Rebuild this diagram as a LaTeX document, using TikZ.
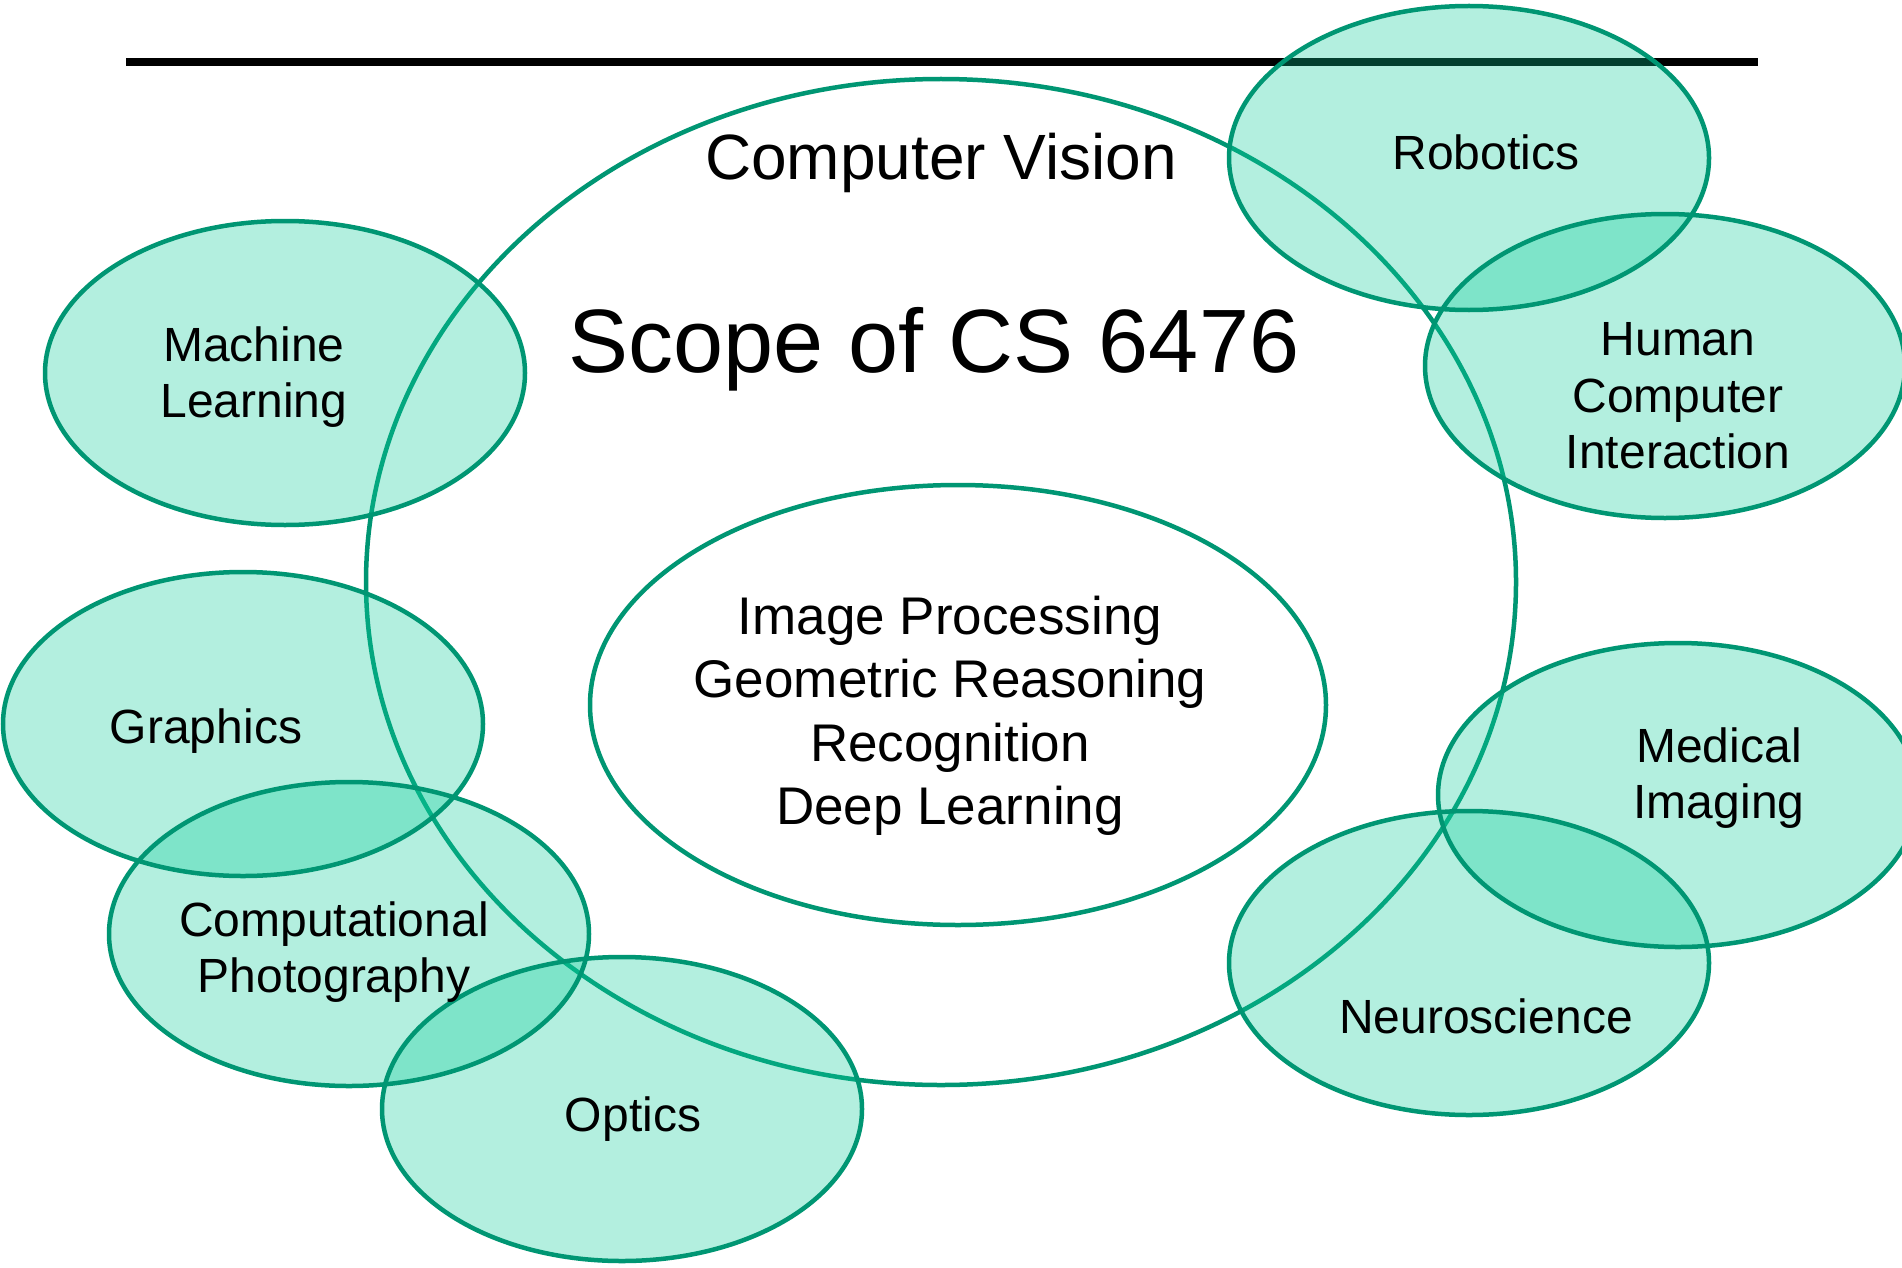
\documentclass[tikz,border=0pt]{standalone}
\usepackage{fontspec}
\setmainfont{Liberation Sans}
\definecolor{edgec}{RGB}{0,150,115}
\definecolor{mintc}{RGB}{11,206,154}
\begin{document}
\begin{tikzpicture}[x=1pt,y=-1pt,
  lbl/.style={font=\fontsize{48}{56.5}\selectfont, align=center, inner sep=0pt},
  innertxt/.style={font=\fontsize{53}{63.5}\selectfont, align=center, inner sep=0pt},
  blobfill/.style={fill=mintc, fill opacity=0.31},
  blobedge/.style={draw=edgec, line width=4.5pt}]
\useasboundingbox (0,0) rectangle (1902,1268);
\fill[white] (0,0) rectangle (1902,1268);
% top rule
\coordinate (rl) at (126,62);
\coordinate (rr) at (1758,62);
\draw[line width=8pt, black] (rl) -- (rr);
% centres
\coordinate (cv) at (941,582);
\coordinate (in) at (958,705);
\coordinate (ml) at (285,373);
\coordinate (gr) at (243,724);
\coordinate (cp) at (349,934);
\coordinate (op) at (622,1109);
\coordinate (ro) at (1469,158);
\coordinate (hc) at (1665,366);
\coordinate (mi) at (1678,795);
\coordinate (ns) at (1469,963);
% big ellipses
\draw[blobedge] (cv) ellipse [x radius=575, y radius=503];
\draw[blobedge] (in) ellipse [x radius=368, y radius=220];
% small fills
\foreach \c in {ml,gr,cp,op,ro,hc,mi,ns}
  \fill[blobfill] (\c) ellipse [x radius=240, y radius=152];
\foreach \c in {ml,gr,cp,op,ro,hc,mi,ns}
  \draw[blobedge] (\c) ellipse [x radius=240, y radius=152];
% texts
\node[font=\fontsize{64}{77}\selectfont, inner sep=0pt] (tcv) at (941,163) {Computer Vision};
\node[font=\fontsize{90}{108}\selectfont, inner sep=0pt] (tsc) at (934,349) {Scope of CS 6476};
\node[innertxt] (tin) at (950,716) {Image Processing\\Geometric Reasoning\\Recognition\\Deep Learning};
\node[lbl] (tml) at (254,377) {Machine\\Learning};
\node[lbl] (tgr) at (206,731) {Graphics};
\node[lbl] (tcp) at (334,952) {Computational\\Photography};
\node[lbl] (top) at (633,1119) {Optics};
\node[lbl] (tro) at (1486,152) {Robotics};
\node[lbl] (thc) at (1678,396) {Human\\Computer\\Interaction};
\node[lbl] (tmi) at (1719,778) {Medical\\Imaging};
\node[lbl] (tns) at (1486,1016) {Neuroscience};
\end{tikzpicture}
\end{document}
